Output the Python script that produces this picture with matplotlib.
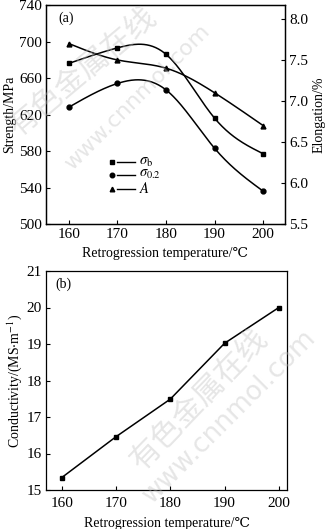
import numpy as np
import matplotlib
matplotlib.use("Agg")
import matplotlib.pyplot as plt

plt.rcParams['font.family'] = ['Liberation Serif', 'DejaVu Serif', 'Noto Sans CJK SC']
plt.rcParams['mathtext.fontset'] = 'stix'
plt.rcParams['font.size'] = 10

temps = [160, 170, 180, 190, 200]
sigma_b = [676, 693, 686, 616, 577]
sigma_02 = [628, 654, 647, 583, 536]
elong = [7.70, 7.50, 7.40, 7.10, 6.70]
conductivity = [15.34, 16.46, 17.49, 19.02, 20.0]


def natural_spline(x, y, n=200):
    x = np.asarray(x, float)
    y = np.asarray(y, float)
    k = len(x)
    h = np.diff(x)
    A = np.zeros((k, k))
    b = np.zeros(k)
    A[0, 0] = A[-1, -1] = 1
    for i in range(1, k - 1):
        A[i, i - 1] = h[i - 1]
        A[i, i] = 2 * (h[i - 1] + h[i])
        A[i, i + 1] = h[i]
        b[i] = 6 * ((y[i + 1] - y[i]) / h[i] - (y[i] - y[i - 1]) / h[i - 1])
    M = np.linalg.solve(A, b)
    xs = np.linspace(x[0], x[-1], n)
    idx = np.clip(np.searchsorted(x, xs) - 1, 0, k - 2)
    x0, x1 = x[idx], x[idx + 1]
    hh = x1 - x0
    ys = (M[idx] * (x1 - xs) ** 3 / (6 * hh) + M[idx + 1] * (xs - x0) ** 3 / (6 * hh)
          + (y[idx] / hh - M[idx] * hh / 6) * (x1 - xs)
          + (y[idx + 1] / hh - M[idx + 1] * hh / 6) * (xs - x0))
    return xs, ys


fig = plt.figure(figsize=(3.28, 5.29), dpi=100)
W, H = 328, 529

# site watermark, drawn underneath everything
wm = dict(color='#c0c0c0', alpha=0.4, ha='center', va='center', zorder=0)
fig.text(83 / W, 1 - 72 / H, '有色金属在线', family=['Noto Sans CJK SC'], fontsize=22, rotation=40, **wm)
fig.text(137 / W, 1 - 97 / H, 'www.cnnmol.com', family=['DejaVu Sans'], fontsize=16, rotation=45, **wm)
fig.text(200 / W, 1 - 400 / H, '有色金属在线', family=['Noto Sans CJK SC'], fontsize=22, rotation=46, **wm)
fig.text(230 / W, 1 - 416 / H, 'www.cnnmol.com', family=['DejaVu Sans'], fontsize=19, rotation=45, **wm)

# (a) strength and elongation
ax = fig.add_axes([46 / W, 1 - 224 / H, (285 - 46) / W, (224 - 5) / H])
ax.patch.set_alpha(0)
ax2 = ax.twinx()
for ys, mk in [(sigma_b, 's'), (sigma_02, 'o')]:
    xs, ss = natural_spline(temps, ys)
    ax.plot(xs, ss, color='black', lw=1.1)
    ax.plot(temps, ys, mk, color='black', ms=3.5)
xs, ss = natural_spline(temps, elong)
ax2.plot(xs, ss, color='black', lw=1.1)
ax2.plot(temps, elong, '^', color='black', ms=3.5)

ax.set_xlim(155.3, 204.5)
ax.set_ylim(500, 740)
ax2.set_ylim(5.5, 8.17)
ax.set_xticks(temps)
ax.set_yticks(np.arange(500, 741, 40))
ax2.set_yticks(np.arange(5.5, 8.01, 0.5))
ax.set_xlabel('Retrogression temperature/℃', labelpad=4)
ax.set_ylabel('Strength/MPa', labelpad=2)
ax2.set_ylabel('Elongation/%', labelpad=3)
ax.text(0.05, 0.97, '(a)', transform=ax.transAxes, va='top', ha='left')

# legend: marker followed by a short line
leg = [('s', r'$\sigma_{\rm b}$', 0.282), ('o', r'$\sigma_{0.2}$', 0.226), ('^', r'$A$', 0.16)]
for mk, lab, yy in leg:
    ax.plot([0.276], [yy], mk, color='black', ms=3.3, transform=ax.transAxes, clip_on=False)
    ax.plot([0.297, 0.372], [yy, yy], color='black', lw=1.0, transform=ax.transAxes)
    ax.text(0.39, yy, lab, transform=ax.transAxes, va='center', ha='left', fontsize=10.5)

# (b) conductivity
bx = fig.add_axes([46 / W, 1 - 490 / H, (287 - 46) / W, (490 - 271) / H])
bx.patch.set_alpha(0)
bx.plot(temps, conductivity, 's-', color='black', lw=1.1, ms=3.5)
bx.set_xlim(157.1, 201.5)
bx.set_ylim(15, 21)
bx.set_xticks(temps)
bx.set_yticks(range(15, 22))
bx.set_xlabel('Retrogression temperature/℃', labelpad=5)
bx.set_ylabel(r'Conductivity/(MS$\cdot$m$^{-1}$)', labelpad=2)
bx.text(0.04, 0.97, '(b)', transform=bx.transAxes, va='top', ha='left')

for a in (ax, ax2, bx):
    a.tick_params(direction='in', length=3, width=0.8, labelsize=11, pad=3)
    for s in a.spines.values():
        s.set_linewidth(0.9)
bx.tick_params(axis='x', pad=5)

fig.savefig('out.png', dpi=100)
